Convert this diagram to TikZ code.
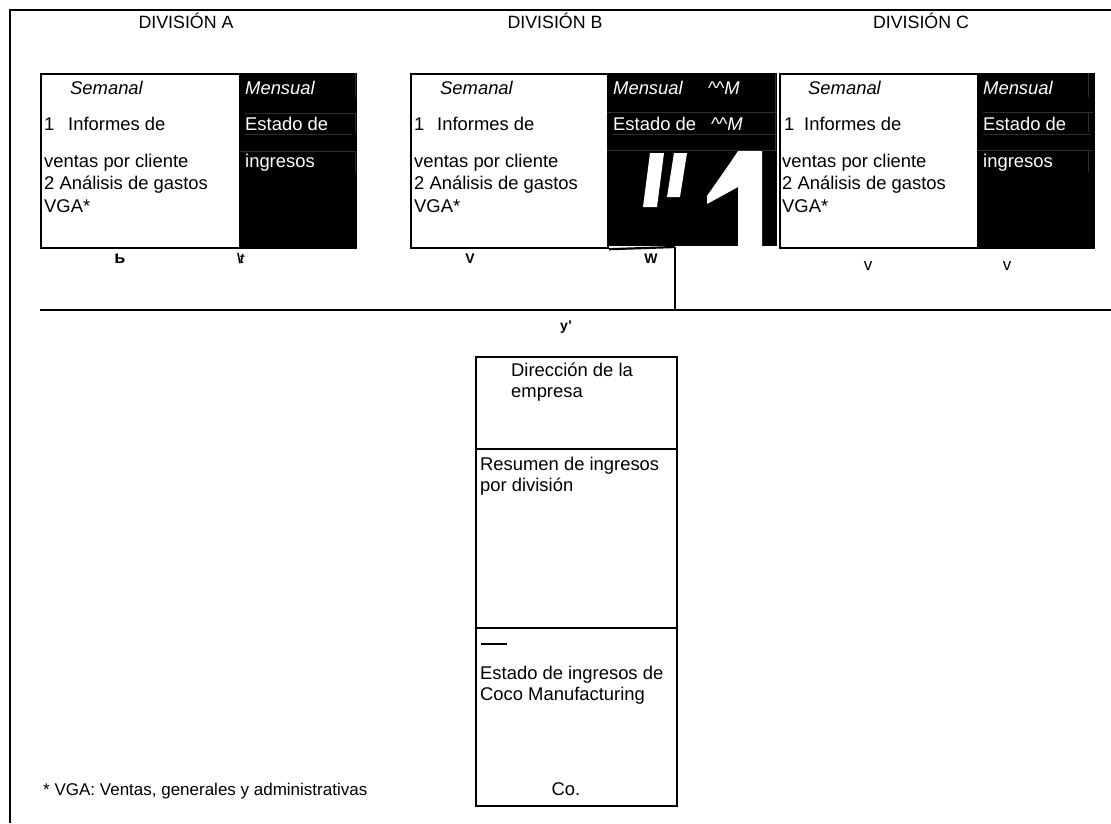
\documentclass[tikz,border=0pt]{standalone}
\usepackage{fontspec}
\setmainfont{Liberation Sans}
\begin{document}
\begin{tikzpicture}[x=1pt,y=-1pt,
  frameline/.style={line width=2pt},
  blk/.style={draw=black, line width=2.2pt, inner sep=0pt, anchor=north west},
  seam/.style={draw=black!82, line width=0.7pt},
  body/.style={inner sep=0pt, anchor=base west, font=\fontsize{18.4}{22}\selectfont},
  wbody/.style={body, text=white},
  head/.style={inner sep=0pt, anchor=base, font=\fontsize{17.8}{21}\selectfont},
  tiny/.style={inner sep=0pt, anchor=base, font=\fontsize{14}{16}\selectfont\bfseries},
  note/.style={inner sep=0pt, anchor=base west, font=\fontsize{17}{20}\selectfont}]
\useasboundingbox (0,0) rectangle (1111,823);

% outer frame (top and left sides only)
\draw[frameline] (1111,10) -- (10,10) -- (10,823);

% ---------------- division headings
\node[head] (hA) at (186,28) {DIVISIÓN A};
\node[head] (hB) at (555,28) {DIVISIÓN B};
\node[head] (hC) at (921,28) {DIVISIÓN C};

% ---------------- division A
\fill[black] (239,73) rectangle (355,247);
\node[blk, minimum width=315pt, minimum height=174pt] (A) at (40,73) {};
\draw[seam] (245,113) -- (355,113);
\draw[seam] (245,134) -- (352,134);
\draw[seam] (240,151) -- (355,151);
\draw[seam] (355,73) -- (355,97) (355,113) -- (355,133) (355,151) -- (355,173);
\node[body, font=\fontsize{18.4}{22}\selectfont\itshape] (Asem) at (70,94) {Semanal};
\node[body] (A1) at (44,130) {1};
\node[body] (A1b) at (68,130) {Informes de};
\node[body] (A2) at (44,167) {ventas por cliente};
\node[body] (A3) at (44,189.5) {2 Análisis de gastos};
\node[body] (A4) at (44,212) {VGA*};
\node[wbody, font=\fontsize{18.4}{22}\selectfont\itshape] (Amen) at (245,94) {Mensual};
\node[wbody] (Aest) at (245,130) {Estado de};
\node[wbody] (Aing) at (245,167) {ingresos};
\node[tiny, font=\fontsize{18}{20}\selectfont\bfseries] (Aa) at (120,263) {ь};
\node[tiny] (Ab) at (241,263) {\textbackslash\kern-1.5pt\textit{t}};

% ---------------- division B
\fill[black] (607,73) rectangle (777,246);
\node[blk, minimum width=197pt, minimum height=174pt] (B) at (410,73) {};
\coordinate (Bjoin) at (675,247);
\draw[line width=2.2pt] (B.south east) -- (Bjoin);
\draw[seam] (607,112) -- (777,112);
\draw[seam] (612,134) -- (777,134);
\draw[seam] (607,150) -- (777,150);
\draw[seam] (775,73) -- (775,150);
% large white glyph marks over the monthly column
\fill[white] (650,153) -- (664,153) -- (657,207) -- (643,207) -- cycle;
\fill[white] (674,153) -- (687,153) -- (680,197) -- (667,197) -- cycle;
\fill[white] (738,151) -- (762,151) -- (762,247) -- (738,247) -- (738,187)
  -- (707,204) -- (707,196) .. controls (718,180) and (729,165) .. (738,151) -- cycle;
\node[body, font=\fontsize{18.4}{22}\selectfont\itshape] (Bsem) at (440,94) {Semanal};
\node[body] (B1) at (414,130) {1};
\node[body] (B1b) at (437,130) {Informes de};
\node[body] (B2) at (414,167) {ventas por cliente};
\node[body] (B3) at (414,189.5) {2 Análisis de gastos};
\node[body] (B4) at (414,212) {VGA*};
\node[wbody, font=\fontsize{18.4}{22}\selectfont\itshape] (Bmen) at (613,94) {Mensual};
\node[wbody] (Bm1) at (708,94) {\textasciicircum\kern-1pt\textasciicircum\textit{M}};
\node[wbody] (Best) at (613,130) {Estado de};
\node[wbody] (Bm2) at (711,130) {\textasciicircum\kern-1pt\textasciicircum\textit{M}};
\node[tiny] (Ba) at (470,263) {V};
\node[tiny] (Bb) at (651,263) {W};

% ---------------- division C
\fill[black] (977,73) rectangle (1093,247);
\node[blk, minimum width=314pt, minimum height=174pt] (C) at (779,73) {};
\draw[seam] (983,112) -- (1093,112);
\draw[seam] (983,134) -- (1090,134);
\draw[seam] (977,150) -- (1093,150);
\draw[seam] (1088,73) -- (1088,97) (1088,113) -- (1088,132) (1088,151) -- (1088,172);
\node[body, font=\fontsize{18.4}{22}\selectfont\itshape] (Csem) at (808,94) {Semanal};
\node[body] (C1) at (784,130) {1};
\node[body] (C1b) at (804,130) {Informes de};
\node[body] (C2) at (782,167) {ventas por cliente};
\node[body] (C3) at (782,189.5) {2 Análisis de gastos};
\node[body] (C4) at (782,212) {VGA*};
\node[wbody, font=\fontsize{18.4}{22}\selectfont\itshape] (Cmen) at (983,94) {Mensual};
\node[wbody] (Cest) at (983,130) {Estado de};
\node[wbody] (Cing) at (983,167) {ingresos};
\node[tiny, font=\fontsize{17}{19}\selectfont] (Ca) at (868,270) {v};
\node[tiny, font=\fontsize{17}{19}\selectfont] (Cb) at (1007,270) {v};

% ---------------- collecting line
\coordinate (busL) at (40,310);
\coordinate (busR) at (1111,310);
\draw[line width=2.6pt] (busL) -- (busR);
\draw[line width=1.3pt] (Bjoin) -- (Bjoin |- busL);
\node[tiny] (bmark) at (566,330) {y\kern0.5pt\textquotesingle};

% ---------------- company management
\node[blk, minimum width=201pt, minimum height=449pt] (M) at (475,356) {};
\coordinate (Md1) at (475,449);
\coordinate (Md2) at (475,628);
\draw[line width=2.2pt] (Md1) -- (Md1 -| M.east);
\draw[line width=2.2pt] (Md2) -- (Md2 -| M.east);
\node[body] (Mdir) at (511,376) {Dirección de la};
\node[body] (Memp) at (511,397) {empresa};
\node[body] (Mres) at (480,470) {Resumen de ingresos};
\node[body] (Mpor) at (480,491) {por división};
\draw[line width=2.5pt] (481,644) -- (507,644);
\node[body] (Mest) at (480,679) {Estado de ingresos de};
\node[body] (Mcoc) at (480,700) {Coco Manufacturing};
\node[body, anchor=base] (Mco) at (566,795) {Co.};

% ---------------- footnote
\node[note] (fn) at (43,795) {* VGA: Ventas, generales y administrativas};
\end{tikzpicture}
\end{document}
